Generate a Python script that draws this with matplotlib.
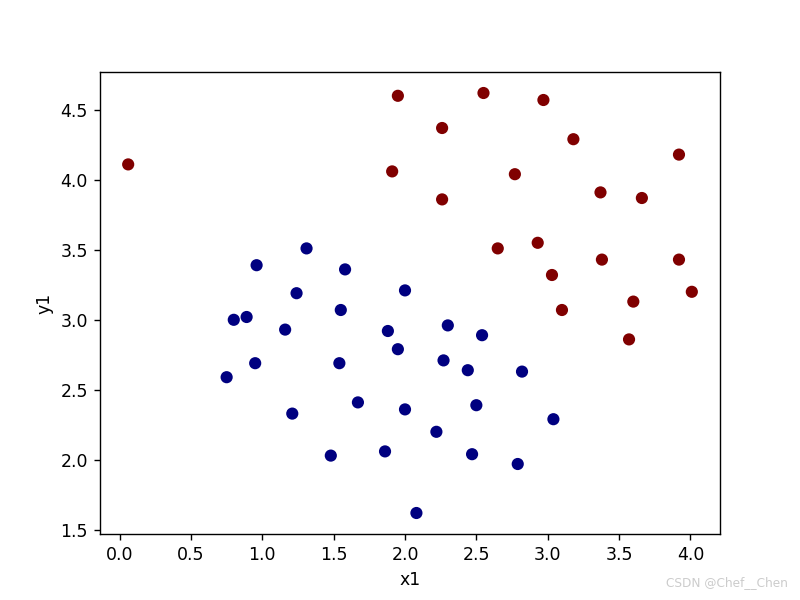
import matplotlib
matplotlib.use("Agg")
import matplotlib.pyplot as plt
import numpy as np

x_red = [0.06, 1.95, 2.55, 2.97, 2.26, 3.18, 3.92, 1.91, 2.77, 3.37, 3.66, 2.26,
         2.93, 2.65, 3.38, 3.92, 3.03, 4.01, 3.60, 3.10, 3.57]
y_red = [4.11, 4.60, 4.62, 4.57, 4.37, 4.29, 4.18, 4.06, 4.04, 3.91, 3.87, 3.86,
         3.55, 3.51, 3.43, 3.43, 3.32, 3.20, 3.13, 3.07, 2.86]
x_blue = [1.31, 0.96, 1.58, 2.00, 1.24, 1.55, 0.89, 0.80, 2.30, 1.16, 1.88, 2.54,
          1.95, 2.27, 1.54, 0.95, 2.44, 2.82, 0.75, 1.67, 2.50, 2.00, 1.21, 3.04,
          2.22, 1.48, 1.86, 2.47, 2.79, 2.08]
y_blue = [3.51, 3.39, 3.36, 3.21, 3.19, 3.07, 3.02, 3.00, 2.96, 2.93, 2.92, 2.89,
          2.79, 2.71, 2.69, 2.69, 2.64, 2.63, 2.59, 2.41, 2.39, 2.36, 2.33, 2.29,
          2.20, 2.03, 2.06, 2.04, 1.97, 1.62]

x = np.array(x_red + x_blue)
y = np.array(y_red + y_blue)
labels = np.array([1] * len(x_red) + [0] * len(x_blue))

fig, ax = plt.subplots(figsize=(6.4, 4.8), dpi=125)
ax.scatter(x, y, c=labels, cmap='jet')
ax.set_xlabel('x1')
ax.set_ylabel('y1')
fig.text(0.985, 0.018, 'CSDN @Chef__Chen', ha='right', va='bottom',
         color='#cccccc', fontsize=7)
fig.savefig('out.png')
